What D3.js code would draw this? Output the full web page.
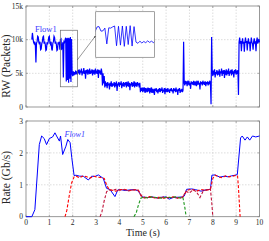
<!DOCTYPE html>
<html>
<head>
<meta charset="utf-8">
<script src="https://cdn.jsdelivr.net/npm/d3@7"></script>
<style>
	body { margin: 0; background: #fff; }
	svg { display: block; font-family: "Liberation Serif", "DejaVu Serif", serif; }
	.grid line { stroke: #c6c6c6; stroke-width: 0.6; stroke-dasharray: 1.5,1.5; }
	.frame { fill: none; stroke: #7f7f7f; stroke-width: 0.8; }
	.tick { stroke: #7f7f7f; stroke-width: 0.6; }
	.tickLabel { font-size: 7.5px; fill: #262626; }
	.axisLabel { fill: #262626; }
</style>
</head>
<body>
<div id="viz"></div>
<script>
// ---- top panel: receive window of Flow1, sampled every 25 ms from 0.25 s (k packets)
rwStart = 0.25;
rwStep = 0.025;
rwValues = [
	10.0, 11.0, 10.2, 9.6, 9.4, 9.7, 9.3, 6.6, 9.5, 9.7, 10.5, 10.4, 9.6, 9.3, 9.7, 8.5, 8.6, 9.4, 9.7, 10.4, // 0.25
	10.5, 9.4, 9.7, 9.3, 8.4, 8.5, 9.6, 9.3, 9.7, 10.4, 10.5, 9.5, 9.3, 9.7, 8.6, 8.4, 9.5, 9.7, 10.5, 10.3, // 0.75
	9.4, 9.7, 9.3, 8.4, 8.5, 9.6, 9.3, 9.7, 8.5, 10.0, 10.1, 8.6, 8.7, 9.6, 4.4, 9.7, 9.6, 10.0, 10.3, 3.8, // 1.25
	10.2, 4.0, 10.3, 3.6, 10.2, 4.2, 10.4, 3.7, 10.1, 5.0, 4.6, 5.3, 4.7, 5.2, 4.8, 5.4, 4.9, 5.3, 4.8, 5.5, // 1.75
	5.0, 5.6, 4.8, 5.4, 5.1, 5.7, 4.7, 5.3, 5.0, 5.8, 4.9, 5.4, 4.2, 5.5, 5.0, 5.6, 4.8, 5.3, 5.1, 5.7, // 2.25
	4.9, 5.4, 5.0, 5.6, 4.7, 5.5, 5.1, 5.3, 4.8, 5.7, 5.0, 5.4, 4.9, 5.6, 4.3, 5.5, 5.0, 5.4, 4.8, 5.7, // 2.75
	5.2, 3.2, 5.0, 3.5, 4.6, 2.9, 3.8, 3.1, 3.6, 2.8, 3.7, 3.2, 3.5, 2.6, 3.6, 3.1, 3.8, 3.0, 3.5, 3.2, // 3.25
	3.3, 3.7, 2.9, 3.6, 3.1, 3.8, 2.4, 3.5, 3.2, 3.7, 3.0, 3.6, 3.3, 3.8, 2.8, 3.5, 3.1, 3.7, 3.0, 3.6, // 3.75
	3.2, 3.7, 2.9, 3.5, 3.3, 3.8, 3.0, 3.6, 2.5, 3.5, 3.2, 3.7, 3.0, 3.6, 3.1, 3.8, 2.9, 3.5, 3.3, 3.6, // 4.25
	3.0, 3.7, 3.2, 3.5, 2.9, 3.6, 2.2, 2.8, 2.4, 2.9, 2.2, 2.7, 2.5, 2.9, 2.1, 2.8, 2.4, 2.6, 2.2, 2.9, // 4.75
	2.3, 2.8, 2.0, 2.6, 2.4, 2.9, 2.1, 2.7, 2.3, 2.5, 1.8, 2.7, 2.4, 2.8, 2.2, 2.6, 2.0, 2.7, 2.3, 2.8, // 5.25
	2.2, 2.7, 2.4, 2.9, 2.1, 2.6, 2.3, 2.8, 1.9, 2.6, 2.4, 2.7, 2.2, 2.8, 2.3, 2.6, 2.1, 2.7, 2.4, 2.8, // 5.75
	2.3, 2.6, 2.0, 2.8, 2.4, 2.7, 2.2, 2.9, 2.3, 2.6, 1.8, 2.7, 2.4, 2.8, 2.1, 2.6, 2.3, 2.7, 2.2, 2.5, // 6.25
	9.7, 3.6, 3.2, 3.9, 3.4, 3.8, 3.1, 3.7, 3.5, 3.9, 3.2, 3.6, 2.7, 3.8, 3.4, 3.7, 3.3, 3.9, 3.2, 3.6, // 6.75
	3.4, 3.8, 3.1, 3.7, 3.5, 3.9, 3.3, 3.6, 2.6, 3.8, 3.4, 3.7, 3.2, 3.9, 3.5, 3.6, 3.3, 3.8, 3.1, 3.7, // 7.25
	3.4, 3.8, 3.2, 3.6, 3.5, 3.9, 3.3, 0.4, 10.4, 5.3, 4.6, 5.4, 4.8, 5.6, 4.4, 5.2, 4.9, 5.5, 4.7, 5.3, // 7.75
	4.8, 5.6, 4.5, 5.3, 5.0, 5.7, 4.6, 5.4, 4.9, 5.5, 4.3, 5.2, 5.0, 5.6, 4.7, 5.4, 4.9, 5.7, 4.6, 5.3, // 8.25
	5.0, 5.5, 4.7, 5.6, 4.9, 5.3, 4.4, 5.5, 5.0, 5.6, 4.8, 5.4, 4.9, 5.5, 1.8, 9.6, 10.3, 9.4, 9.8, 8.3, // 8.75
	9.6, 10.2, 9.4, 9.7, 8.2, 9.6, 10.3, 9.5, 9.8, 8.4, 9.6, 10.2, 9.4, 9.7, 8.3, 9.5, 10.3, 9.6, 9.4, 8.5, // 9.25
	9.7, 10.2, 9.5, 9.6, 8.3, 9.8, 10.3, 9.4, 9.7, 10.1, 9.6 // 9.75
];
rwTicks = [0, 5000, 10000, 15000];

// window that is blown up in the inset
zoomTime = [1.47, 2.2];
zoomRW = [3000, 11400];

// ---- bottom panel: rate of each flow (Gb/s)
flow1Time = [0, 0.25, 0.38, 0.57, 0.67, 0.78, 0.88, 1.0, 1.14, 1.24, 1.31, 1.43, 1.48, 1.57, 1.71, 1.79, 1.89, 1.96, 2.06, 2.14, 2.3, 2.45, 2.67, 2.81, 2.95, 3.1, 3.31, 3.45, 3.6, 3.81, 3.93, 4.05, 4.25, 4.45, 4.65, 4.8, 4.98, 5.2, 5.4, 5.6, 5.8, 6.0, 6.13, 6.3, 6.5, 6.7, 6.78, 6.88, 7.1, 7.25, 7.5, 7.7, 7.9, 7.96, 8.1, 8.3, 8.5, 8.65, 8.8, 8.95, 9.05, 9.19, 9.26, 9.38, 9.48, 9.58, 9.7, 9.84, 10];
flow1Rate = [0, 0, 0.22, 2.26, 2.53, 2.45, 2.26, 2.45, 2.5, 2.63, 2.53, 2.37, 2.53, 1.95, 2.21, 2.42, 2.32, 1.85, 1.29, 1.30, 1.27, 1.27, 1.15, 1.27, 1.26, 1.31, 1.2, 0.89, 0.85, 0.63, 0.84, 0.85, 0.82, 0.84, 0.85, 0.81, 0.62, 0.6, 0.62, 0.59, 0.61, 0.62, 0.55, 0.6, 0.61, 0.62, 0.65, 0.86, 0.87, 0.85, 0.8, 0.84, 0.86, 1.3, 1.31, 1.24, 1.27, 1.25, 1.28, 1.3, 1.32, 2.47, 2.53, 2.40, 2.5, 2.40, 2.53, 2.5, 2.53];
flow2Time = [1.67, 1.75, 1.85, 1.95, 2.06, 2.15, 2.3, 2.45, 2.6, 2.75, 2.9, 3.05, 3.2, 3.35, 3.45, 3.55, 3.7, 3.85, 4.0, 4.2, 4.4, 4.6, 4.8, 4.95, 5.1, 5.3, 5.5, 5.7, 5.9, 6.1, 6.3, 6.5, 6.7, 6.85, 6.95, 7.1, 7.3, 7.5, 7.7, 7.9, 8.0, 8.1, 8.25, 8.4, 8.55, 8.7, 8.85, 9.0, 9.06, 9.1, 9.17];
flow2Rate = [0, 0.2, 0.65, 1.05, 1.25, 1.27, 1.22, 1.28, 1.25, 1.21, 1.27, 1.24, 1.23, 1.2, 1.0, 0.86, 0.83, 0.8, 0.84, 0.86, 0.82, 0.84, 0.85, 0.65, 0.6, 0.63, 0.59, 0.61, 0.58, 0.6, 0.62, 0.59, 0.61, 0.78, 0.84, 0.86, 0.8, 0.85, 0.83, 0.86, 1.2, 1.3, 1.25, 1.22, 1.28, 1.25, 1.27, 1.3, 1.28, 0.9, 0];
flow3Time = [3.17, 3.25, 3.35, 3.45, 3.55, 3.7, 3.85, 4.0, 4.2, 4.4, 4.6, 4.8, 4.95, 5.1, 5.3, 5.5, 5.7, 5.9, 6.1, 6.3, 6.5, 6.7, 6.85, 7.0, 7.15, 7.3, 7.45, 7.6, 7.75, 7.9, 7.96, 8.0];
flow3Rate = [0, 0.15, 0.5, 0.78, 0.84, 0.82, 0.86, 0.83, 0.85, 0.81, 0.84, 0.83, 0.62, 0.58, 0.61, 0.6, 0.57, 0.62, 0.59, 0.61, 0.58, 0.6, 0.8, 0.74, 0.85, 0.78, 0.6, 0.82, 0.84, 0.86, 0.4, 0];
flow4Time = [4.62, 4.72, 4.82, 4.92, 5.0, 5.2, 5.4, 5.6, 5.8, 6.0, 6.2, 6.4, 6.6, 6.72, 6.8, 6.86];
flow4Rate = [0, 0.12, 0.38, 0.58, 0.61, 0.59, 0.62, 0.6, 0.58, 0.61, 0.6, 0.62, 0.59, 0.6, 0.3, 0];
rateTicks = [0, 1, 2, 3];
timeTicks = [0, 1, 2, 3, 4, 5, 6, 7, 8, 9, 10];

flowColors = ['#0000ff', '#ff0000', '#c0143c', '#1a961a'];

// dimensions
width = 269;
height = 241;

svg = d3.select('#viz').append('svg')
	.attr('width', width)
	.attr('height', height);

// scales
xScale = d3.scaleLinear().domain([0, 10]).range([26, 259.5]);
yTop = d3.scaleLinear().domain([0, 15000]).range([107, 6]);
yBot = d3.scaleLinear().domain([0, 3]).range([216.7, 121]);

// frame, grid, inward ticks and tick labels of one panel
drawPanel = function(y, yTicks, yFormat, xLabels) {
	var g = svg.append('g');
	var y0 = y.range()[0], y1 = y.range()[1];
	var x0 = xScale.range()[0], x1 = xScale.range()[1];

	var grid = g.append('g').attr('class', 'grid');
	grid.selectAll('line.gx')
		.data(timeTicks.slice(1, -1))
		.enter().append('line')
		.attr('x1', d => xScale(d)).attr('x2', d => xScale(d))
		.attr('y1', y0).attr('y2', y1);
	grid.selectAll('line.gy')
		.data(yTicks.slice(1, -1))
		.enter().append('line')
		.attr('class', 'gy')
		.attr('x1', x0).attr('x2', x1)
		.attr('y1', d => y(d)).attr('y2', d => y(d));

	timeTicks.forEach(function(d) {
		g.append('line').attr('class', 'tick')
			.attr('x1', xScale(d)).attr('x2', xScale(d)).attr('y1', y0).attr('y2', y0 - 2);
		g.append('line').attr('class', 'tick')
			.attr('x1', xScale(d)).attr('x2', xScale(d)).attr('y1', y1).attr('y2', y1 + 2);
	});
	yTicks.forEach(function(d) {
		g.append('line').attr('class', 'tick')
			.attr('x1', x0).attr('x2', x0 + 2).attr('y1', y(d)).attr('y2', y(d));
		g.append('line').attr('class', 'tick')
			.attr('x1', x1).attr('x2', x1 - 2).attr('y1', y(d)).attr('y2', y(d));
	});

	g.selectAll('text.ylab')
		.data(yTicks)
		.enter().append('text')
		.attr('class', 'tickLabel')
		.attr('text-anchor', 'end')
		.attr('x', x0 - 3)
		.attr('y', d => y(d) + 2.7)
		.text(yFormat);

	if (xLabels) {
		g.selectAll('text.xlab')
			.data(timeTicks)
			.enter().append('text')
			.attr('class', 'tickLabel')
			.attr('text-anchor', 'middle')
			.attr('x', d => xScale(d))
			.attr('y', y0 + 8)
			.text(d => d);
	}

	g.append('rect').attr('class', 'frame')
		.attr('x', x0).attr('y', y1)
		.attr('width', x1 - x0).attr('height', y0 - y1);
};

drawPanel(yTop, rwTicks, d => d == 0 ? '0' : (d / 1000) + 'k', false);
drawPanel(yBot, rateTicks, d => d, true);

// ---- top panel trace
rwLine = d3.line()
	.x((d, i) => xScale(rwStart + i * rwStep))
	.y(d => yTop(d * 1000));

svg.append('path')
	.datum(rwValues)
	.attr('d', rwLine)
	.attr('fill', 'none')
	.attr('stroke', flowColors[0])
	.attr('stroke-width', 1.2);

// zoom window marker
svg.append('rect')
	.attr('x', xScale(zoomTime[0]))
	.attr('y', yTop(zoomRW[1]))
	.attr('width', xScale(zoomTime[1]) - xScale(zoomTime[0]))
	.attr('height', yTop(zoomRW[0]) - yTop(zoomRW[1]))
	.attr('fill', 'none')
	.attr('stroke', '#6a6a6a')
	.attr('stroke-width', 0.7);

// inset
inset = {x0: 95.7, x1: 154.5, y0: 11.7, y1: 57.3};
xIn = d3.scaleLinear().domain(zoomTime).range([inset.x0 + 1, inset.x1 - 1]);
yIn = d3.scaleLinear().domain([0, 15000]).range([inset.y1, inset.y0]);

defs = svg.append('defs');
defs.append('clipPath').attr('id', 'insetClip')
	.append('rect')
	.attr('x', inset.x0).attr('y', inset.y0)
	.attr('width', inset.x1 - inset.x0).attr('height', inset.y1 - inset.y0);
defs.append('marker')
	.attr('id', 'arrow')
	.attr('viewBox', '0 0 10 10')
	.attr('refX', 9).attr('refY', 5)
	.attr('markerWidth', 4).attr('markerHeight', 4)
	.attr('orient', 'auto')
	.append('path')
	.attr('d', 'M0,1 L10,5 L0,9 z')
	.attr('fill', '#333');

svg.append('rect')
	.attr('x', inset.x0).attr('y', inset.y0)
	.attr('width', inset.x1 - inset.x0).attr('height', inset.y1 - inset.y0)
	.attr('fill', '#fff');

svg.append('path')
	.datum(rwValues)
	.attr('clip-path', 'url(#insetClip)')
	.attr('d', d3.line()
		.x((d, i) => xIn(rwStart + i * rwStep))
		.y(d => yIn(d * 1000)))
	.attr('fill', 'none')
	.attr('stroke', flowColors[0])
	.attr('stroke-width', 0.8);

svg.append('rect')
	.attr('x', inset.x0).attr('y', inset.y0)
	.attr('width', inset.x1 - inset.x0).attr('height', inset.y1 - inset.y0)
	.attr('fill', 'none')
	.attr('stroke', '#7a7a7a')
	.attr('stroke-width', 0.7);

svg.append('line')
	.attr('x1', xScale(zoomTime[1])).attr('y1', yTop(7000))
	.attr('x2', inset.x0 - 0.3).attr('y2', 36)
	.attr('stroke', '#333')
	.attr('stroke-width', 0.5)
	.attr('marker-end', 'url(#arrow)');

svg.append('text')
	.attr('x', 35).attr('y', 31.5)
	.attr('fill', '#3a3aff')
	.attr('font-size', 8.5)
	.text('Flow1');

// ---- bottom panel lines
rateLine = d3.line()
	.x(d => xScale(d[0]))
	.y(d => yBot(d[1]));

flows = [
	d3.zip(flow1Time, flow1Rate),
	d3.zip(flow2Time, flow2Rate),
	d3.zip(flow3Time, flow3Rate),
	d3.zip(flow4Time, flow4Rate)
];

svg.selectAll('path.flow')
	.data(flows)
	.enter()
	.append('path')
	.attr('class', 'flow')
	.attr('d', rateLine)
	.attr('fill', 'none')
	.attr('stroke', (d, i) => flowColors[i])
	.attr('stroke-width', (d, i) => i == 0 ? 1 : 1.1)
	.attr('stroke-dasharray', (d, i) => i == 0 ? null : '3,1.8');

svg.append('text')
	.attr('x', 64.5).attr('y', 136.5)
	.attr('fill', '#3a3aff')
	.attr('font-size', 8)
	.attr('font-style', 'italic')
	.text('Flow1');

// axis titles
svg.append('text')
	.attr('class', 'axisLabel')
	.attr('font-size', 11.5)
	.attr('text-anchor', 'middle')
	.attr('transform', 'translate(9.5,66) rotate(-90)')
	.text('RW (Packets)');

svg.append('text')
	.attr('class', 'axisLabel')
	.attr('font-size', 11.5)
	.attr('text-anchor', 'middle')
	.attr('transform', 'translate(9.5,177.5) rotate(-90)')
	.text('Rate (Gb/s)');

svg.append('text')
	.attr('class', 'axisLabel')
	.attr('font-size', 10)
	.attr('text-anchor', 'middle')
	.attr('x', 143)
	.attr('y', 235.5)
	.text('Time (s)');
</script>
</body>
</html>
